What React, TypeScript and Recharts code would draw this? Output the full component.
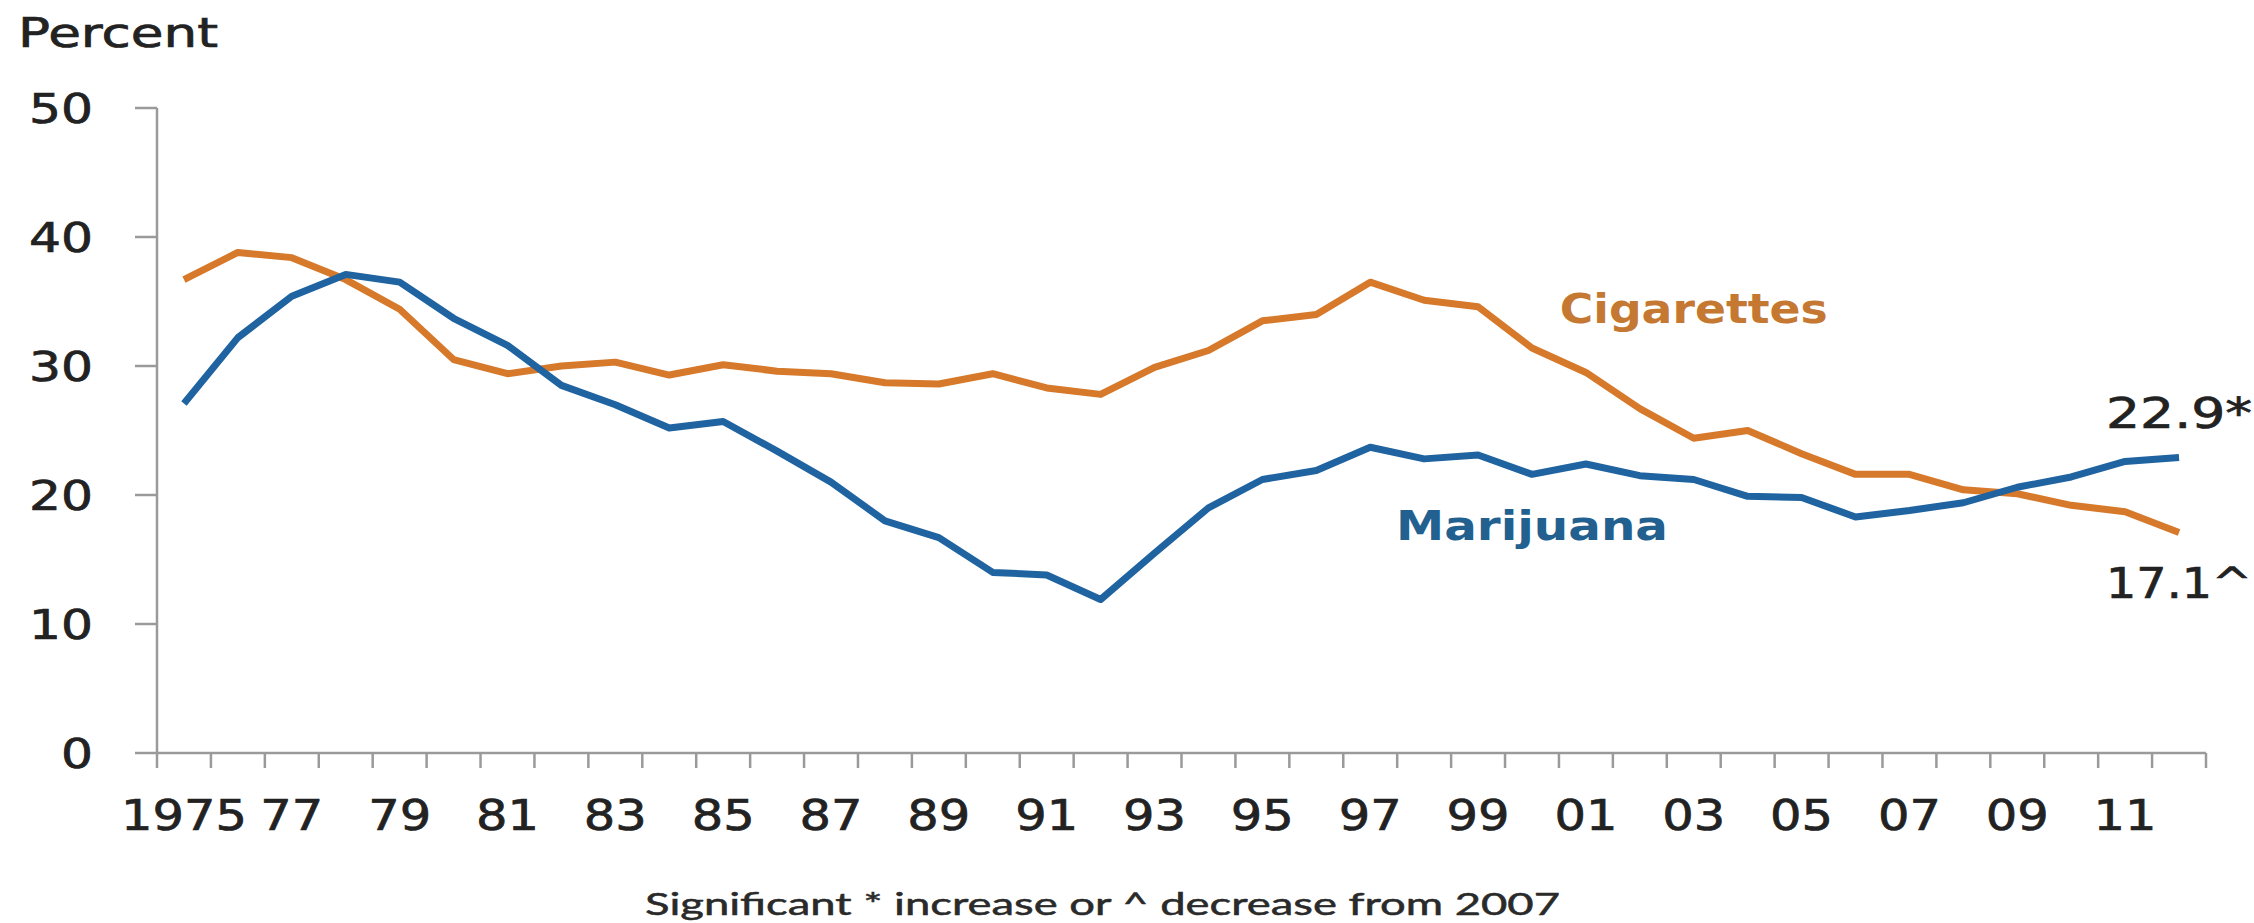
import React from 'react';
import { LineChart, Line, XAxis, YAxis, ReferenceDot, LabelList } from 'recharts';

// ---- data ----
const years = [
  1975, 1976, 1977, 1978, 1979, 1980, 1981, 1982, 1983, 1984, 1985, 1986, 1987,
  1988, 1989, 1990, 1991, 1992, 1993, 1994, 1995, 1996, 1997, 1998, 1999, 2000,
  2001, 2002, 2003, 2004, 2005, 2006, 2007, 2008, 2009, 2010, 2011, 2012,
];
const cigarettes = [
  36.7, 38.8, 38.4, 36.7, 34.4, 30.5, 29.4, 30.0, 30.3, 29.3, 30.1, 29.6, 29.4,
  28.7, 28.6, 29.4, 28.3, 27.8, 29.9, 31.2, 33.5, 34.0, 36.5, 35.1, 34.6, 31.4,
  29.5, 26.7, 24.4, 25.0, 23.2, 21.6, 21.6, 20.4, 20.1, 19.2, 18.7, 17.1,
];
const marijuana = [
  27.1, 32.2, 35.4, 37.1, 36.5, 33.7, 31.6, 28.5, 27.0, 25.2, 25.7, 23.4, 21.0,
  18.0, 16.7, 14.0, 13.8, 11.9, 15.5, 19.0, 21.2, 21.9, 23.7, 22.8, 23.1, 21.6,
  22.4, 21.5, 21.2, 19.9, 19.8, 18.3, 18.8, 19.4, 20.6, 21.4, 22.6, 22.9,
];
const xLabelYears = [1975, 1977, 1979, 1981, 1983, 1985, 1987, 1989, 1991, 1993, 1995, 1997, 1999, 2001, 2003, 2005, 2007, 2009, 2011];
const xLabels = ['1975', '77', '79', '81', '83', '85', '87', '89', '91', '93', '95', '97', '99', '01', '03', '05', '07', '09', '11'];
const yTicks = [0, 10, 20, 30, 40, 50];
const seriesNames = { cigarettes: 'Cigarettes', marijuana: 'Marijuana' };
const seriesNameAnchors = { cigarettes: { year: 2003, value: 34.5 }, marijuana: { year: 2000, value: 17.7 } };
const endMarks = { cigarettes: '^', marijuana: '*' };
const yAxisTitle = 'Percent';
const footnote = 'Significant * increase or ^ decrease  from 2007';

// ---- styling ----
const ORANGE = '#D6792B';
const BLUE = '#1F63A0';
const ORANGE_TEXT = '#C47832';
const BLUE_TEXT = '#22618F';
const AXIS = '#9a9a9a';
const TEXT = '#222';
const NUM_FONT = 'DejaVu Sans';

const data = years.map((y, i) => ({ year: y, cigarettes: cigarettes[i], marijuana: marijuana[i] }));
const boundaryTicks = [...years.map((y) => y - 0.5), years[years.length - 1] + 0.5];
const xTicks = [...boundaryTicks, ...xLabelYears].sort((a, b) => a - b);

const heavy = { stroke: TEXT, strokeWidth: 0.7 };

const XTick = (props: any) => {
  const { x, y, payload } = props;
  const v = payload.value as number;
  if (!Number.isInteger(v)) {
    return <line x1={x} x2={x} y1={y} y2={y + 15} stroke={AXIS} strokeWidth={2.5} />;
  }
  const idx = xLabelYears.indexOf(v);
  if (idx < 0) return null;
  const label = xLabels[idx];
  return (
    <text
      x={x}
      y={y + 77}
      textAnchor="middle"
      fontFamily={NUM_FONT}
      fontSize={42}
      fill={TEXT}
      {...heavy}
      textLength={label.length * 31.5}
      lengthAdjust="spacingAndGlyphs"
    >
      {label}
    </text>
  );
};

const YTick = (props: any) => {
  const { x, y, payload } = props;
  const label = String(payload.value);
  return (
    <text
      x={x}
      y={y + 15}
      textAnchor="end"
      fontFamily={NUM_FONT}
      fontSize={40}
      fill={TEXT}
      {...heavy}
      textLength={label.length * 32}
      lengthAdjust="spacingAndGlyphs"
    >
      {label}
    </text>
  );
};

const endLabel = (dy: number, mark: string) => (props: any) => {
  const { x, y, value, index } = props;
  if (index !== years.length - 1) return null;
  return (
    <text
      x={x}
      y={y + dy}
      textAnchor="middle"
      fontFamily={NUM_FONT}
      fontSize={42}
      fill={TEXT}
      {...heavy}
      textLength={146}
      lengthAdjust="spacingAndGlyphs"
    >
      {Number(value).toFixed(1) + mark}
    </text>
  );
};

const nameShape = (text: string, color: string, len: number) => (p: any) => (
  <text
    x={p.cx}
    y={p.cy + 15}
    textAnchor="middle"
    fontFamily={NUM_FONT}
    fontWeight="bold"
    fontSize={40}
    fill={color}
    textLength={len}
    lengthAdjust="spacingAndGlyphs"
  >
    {text}
  </text>
);

export default function App() {
  return (
    <div style={{ position: 'absolute', left: 0, top: 0, width: 2254, height: 923, background: '#fff' }}>
      <LineChart
        width={2254}
        height={923}
        data={data}
        margin={{ top: 108, right: 48, bottom: 0, left: 0 }}
      >
        <XAxis
          dataKey="year"
          type="number"
          domain={[boundaryTicks[0], boundaryTicks[boundaryTicks.length - 1]]}
          ticks={xTicks}
          interval={0}
          height={170}
          tickSize={0}
          tickMargin={0}
          tickLine={false}
          axisLine={{ stroke: AXIS, strokeWidth: 2.5 }}
          tick={XTick}
          allowDecimals
        />
        <YAxis
          type="number"
          domain={[0, 50]}
          ticks={yTicks}
          interval={0}
          width={157}
          tickSize={22}
          tickMargin={42}
          tickLine={{ stroke: AXIS, strokeWidth: 2.5 }}
          axisLine={{ stroke: AXIS, strokeWidth: 2.5 }}
          tick={YTick}
        />
        <Line
          type="linear"
          dataKey="cigarettes"
          stroke={ORANGE}
          strokeWidth={7}
          strokeLinejoin="round"
          dot={false}
          isAnimationActive={false}
        >
          <LabelList dataKey="cigarettes" content={endLabel(66, endMarks.cigarettes)} />
        </Line>
        <Line
          type="linear"
          dataKey="marijuana"
          stroke={BLUE}
          strokeWidth={7}
          strokeLinejoin="round"
          dot={false}
          isAnimationActive={false}
        >
          <LabelList dataKey="marijuana" content={endLabel(-30, endMarks.marijuana)} />
        </Line>
        <ReferenceDot
          x={seriesNameAnchors.cigarettes.year}
          y={seriesNameAnchors.cigarettes.value}
          r={0}
          shape={nameShape(seriesNames.cigarettes, ORANGE_TEXT, 268)}
        />
        <ReferenceDot
          x={seriesNameAnchors.marijuana.year}
          y={seriesNameAnchors.marijuana.value}
          r={0}
          shape={nameShape(seriesNames.marijuana, BLUE_TEXT, 272)}
        />
      </LineChart>
      <svg
        width={2254}
        height={923}
        style={{ position: 'absolute', left: 0, top: 0, pointerEvents: 'none' }}
      >
        <text
          x={18}
          y={47}
          fontFamily={NUM_FONT}
          fontSize={40}
          fill={TEXT}
          {...heavy}
          textLength={200}
          lengthAdjust="spacingAndGlyphs"
        >
          {yAxisTitle}
        </text>
        <text
          x={645}
          y={915}
          fontFamily="Lato"
          fontSize={30}
          fill="#2a2a2a"
          stroke="#2a2a2a"
          strokeWidth={0.5}
          textLength={915}
          lengthAdjust="spacingAndGlyphs"
        >
          {footnote}
        </text>
      </svg>
    </div>
  );
}
